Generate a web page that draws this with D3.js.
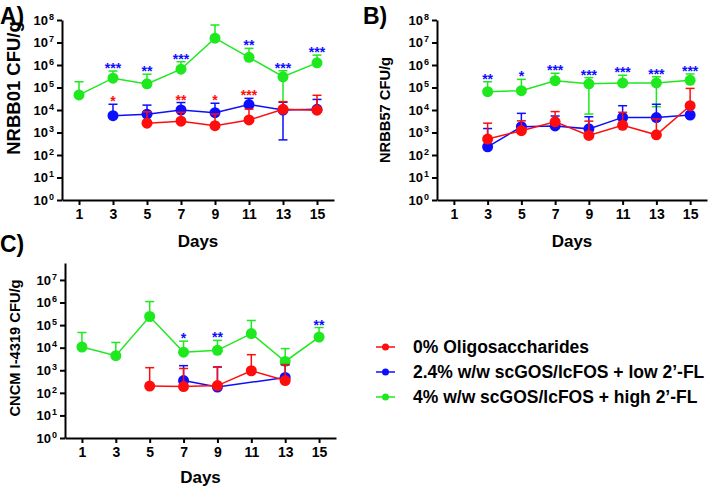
<!DOCTYPE html>
<html>
<head>
<meta charset="utf-8">
<script src="https://cdn.jsdelivr.net/npm/d3@7"></script>
<style>
    body { margin: 0; background: #fff; }
    svg { display: block; font-family: "Liberation Sans", Arial, sans-serif; font-weight: bold; }
</style>
</head>
<body>
<svg id="chart" width="708" height="488"></svg>
<script>

/* days and colours */
var days = [1, 3, 5, 7, 9, 11, 13, 15];
var groupNames = ["0% Oligosaccharides", "2.4% w/w scGOS/lcFOS + low 2\u2019-FL", "4% w/w scGOS/lcFOS + high 2\u2019-FL"];
var groupColors = ["#ff0d0d", "#0d0dff", "#1ee81e"];

/* Panel A - NRBB01 CFU/g (mean, upper error, lower error) */
var aGreenDays = [1, 3, 5, 7, 9, 11, 13, 15];
var aGreen = [4.7e4, 2.6e5, 1.45e5, 6.5e5, 1.55e7, 2.2e6, 3.0e5, 1.25e6];
var aGreenHi = [1.8e5, 5.4e5, 3.9e5, 1.4e6, 6.0e7, 5.5e6, 5.6e5, 2.75e6];
var aGreenLo = [null, null, null, null, null, null, 1e4, null];

var aBlueDays = [3, 5, 7, 9, 11, 13, 15];
var aBlue = [5.6e3, 6.5e3, 1.0e4, 7.6e3, 1.75e4, 1.0e4, 1.07e4];
var aBlueHi = [1.8e4, 1.65e4, 2.15e4, 2.0e4, 3.3e4, 2.2e4, 2.95e4];
var aBlueLo = [null, null, null, null, null, 4.7e2, null];

var aRedDays = [5, 7, 9, 11, 13, 15];
var aRed = [2.6e3, 3.2e3, 2.0e3, 3.6e3, 1.07e4, 9.8e3];
var aRedHi = [8.3e3, 7.9e3, 6.6e3, 1.1e4, 2.35e4, 4.5e4];
var aRedLo = [null, null, null, null, null, null];

var aBlueStars = [[3, "***"], [5, "**"], [7, "***"], [11, "**"], [13, "***"], [15, "***"]];
var aRedStars = [[3, "*"], [7, "**"], [9, "*"], [11, "***"]];

/* Panel B - NRBB57 CFU/g */
var bGreenDays = [3, 5, 7, 9, 11, 13, 15];
var bGreen = [6.5e4, 7.2e4, 2.0e5, 1.45e5, 1.6e5, 1.6e5, 2.1e5];
var bGreenHi = [1.8e5, 2.3e5, 4.3e5, 2.75e5, 3.5e5, 3.0e5, 4.0e5];
var bGreenLo = [null, null, null, 6.6e3, null, 1.4e4, null];

var bBlueDays = [3, 5, 7, 9, 11, 13, 15];
var bBlue = [2.3e2, 1.8e3, 1.95e3, 1.45e3, 4.7e3, 4.6e3, 6.0e3];
var bBlueHi = [1.5e3, 7.1e3, 5.4e3, 5.0e3, 1.55e4, 1.8e4, null];
var bBlueLo = [null, null, null, null, null, null, null];

var bRedDays = [3, 5, 7, 9, 11, 13, 15];
var bRed = [5.1e2, 1.2e3, 3.0e3, 7.4e2, 2.1e3, 7.9e2, 1.55e4];
var bRedHi = [2.6e3, 3.3e3, 8.5e3, 3.2e3, 7.9e3, 4.0e3, 9.1e4];
var bRedLo = [null, null, null, null, null, null, null];

var bBlueStars = [[3, "**"], [5, "*"], [7, "***"], [9, "***"], [11, "***"], [13, "***"], [15, "***"]];
var bRedStars = [];

/* Panel C - CNCM I-4319 CFU/g */
var cGreenDays = [1, 3, 5, 7, 9, 11, 13, 15];
var cGreen = [1.07e4, 4.4e3, 2.4e5, 6.3e3, 7.6e3, 4.2e4, 2.45e3, 2.95e4];
var cGreenHi = [4.7e4, 1.7e4, 1.1e6, 1.95e4, 2.1e4, 1.6e5, 9.1e3, 7.8e4];
var cGreenLo = [null, null, null, null, null, null, null, null];

var cBlueDays = [7, 9, 13];
var cBlue = [3.5e2, 1.8e2, 4.8e2];
var cBlueHi = [1.6e3, 1.4e3, 1.75e3];
var cBlueLo = [null, null, null];

var cRedDays = [5, 7, 9, 11, 13];
var cRed = [2.0e2, 1.9e2, 2.1e2, 9.5e2, 3.5e2];
var cRedHi = [1.3e3, 1.2e3, 1.4e3, 4.9e3, 1.8e3];
var cRedLo = [null, null, null, null, null];

var cBlueStars = [[7, "*"], [9, "**"], [15, "**"]];
var cRedStars = [];


function makeSeries(dd, mean, hi, lo, color) {
    return dd.map(function (d, i) {
        return {day: d, value: mean[i], hi: hi[i], lo: lo[i], color: color};
    });
}

var svg = d3.select("svg");

function drawPanel(p) {

    var g = svg.append("g");

    var x = d3.scaleLinear().domain([0, 16]).range(p.xRange);
    var y = d3.scaleLog().domain([1, p.yTop]).range(p.yRange);

    /* axes */
    var xAxis = d3.axisBottom(x).tickValues(days).tickSize(5).tickSizeOuter(0).tickPadding(4);
    var gx = g.append("g")
        .attr("transform", "translate(0," + p.yRange[0] + ")")
        .call(xAxis);
    gx.selectAll("text").style("font-size", "14px").attr("fill", "#000");

    var yTicks = d3.range(0, p.maxExp + 1).map(function (e) { return Math.pow(10, e); });
    var yAxis = d3.axisLeft(y).tickValues(yTicks).tickSize(5).tickSizeOuter(0).tickPadding(3)
        .tickFormat(function () { return ""; });
    var gy = g.append("g")
        .attr("transform", "translate(" + p.xRange[0] + ",0)")
        .call(yAxis);
    gy.selectAll(".tick text").each(function (d) {
        var t = d3.select(this).style("font-size", "13px").attr("fill", "#000");
        t.append("tspan").text("10");
        t.append("tspan").text(Math.round(Math.log10(d)))
            .style("font-size", "9px").attr("dx", "1").attr("dy", "-5");
    });

    g.selectAll(".domain, .tick line").attr("stroke", "#000").attr("stroke-width", 2);

    /* axis titles */
    g.append("text")
        .attr("x", (p.xRange[0] + p.xRange[1]) / 2)
        .attr("y", p.daysY)
        .attr("text-anchor", "middle")
        .style("font-size", "17px")
        .text("Days");

    g.append("text")
        .attr("transform", "translate(" + p.yLabel[0] + "," + p.yLabel[1] + ") rotate(-90)")
        .attr("text-anchor", "middle")
        .attr("dy", "0.36em")
        .style("font-size", p.yLabelSize + "px")
        .text(p.yTitle);

    g.append("text")
        .attr("x", p.tag[0])
        .attr("y", p.tag[1])
        .style("font-size", "23px")
        .text(p.tagText);

    /* series: green, blue, red */
    var series = [p.green, p.blue, p.red];

    series.forEach(function (s) {
        var eb = g.append("g").attr("stroke", s[0].color).attr("stroke-width", 1.5).attr("fill", "none");
        s.forEach(function (d) {
            var cx = x(d.day);
            if (d.hi) {
                eb.append("line").attr("x1", cx).attr("x2", cx).attr("y1", y(d.value)).attr("y2", y(d.hi));
                eb.append("line").attr("x1", cx - 4.5).attr("x2", cx + 4.5).attr("y1", y(d.hi)).attr("y2", y(d.hi));
            }
            if (d.lo) {
                eb.append("line").attr("x1", cx).attr("x2", cx).attr("y1", y(d.value)).attr("y2", y(d.lo));
                eb.append("line").attr("x1", cx - 4.5).attr("x2", cx + 4.5).attr("y1", y(d.lo)).attr("y2", y(d.lo));
            }
        });

        var line = d3.line()
            .x(function (d) { return x(d.day); })
            .y(function (d) { return y(d.value); });

        g.append("path")
            .datum(s)
            .attr("d", line)
            .attr("fill", "none")
            .attr("stroke", s[0].color)
            .attr("stroke-width", 1.5);

        g.selectAll(null)
            .data(s)
            .enter().append("circle")
            .attr("cx", function (d) { return x(d.day); })
            .attr("cy", function (d) { return y(d.value); })
            .attr("r", 5.5)
            .attr("fill", function (d) { return d.color; });
    });

    /* significance stars: blue above green error bar, red above blue error bar */
    function topOf(s, day) {
        var f = s.filter(function (d) { return d.day === day; })[0];
        if (!f) return null;
        return y(f.hi || f.value);
    }

    p.blueStars.forEach(function (st) {
        g.append("text")
            .attr("x", x(st[0]))
            .attr("y", topOf(p.green, st[0]) + 2)
            .attr("text-anchor", "middle")
            .attr("fill", groupColors[1])
            .style("font-size", "14px")
            .text(st[1]);
    });

    p.redStars.forEach(function (st) {
        g.append("text")
            .attr("x", x(st[0]))
            .attr("y", topOf(p.blue, st[0]) + 2)
            .attr("text-anchor", "middle")
            .attr("fill", groupColors[0])
            .style("font-size", "14px")
            .text(st[1]);
    });
}

drawPanel({
    xRange: [62, 334], yRange: [200, 20], yTop: 1e8, maxExp: 8,
    daysY: 247, yLabel: [13, 88], yLabelSize: 18.5, yTitle: "NRBB01 CFU/g",
    tag: [0, 24], tagText: "A)",
    green: makeSeries(aGreenDays, aGreen, aGreenHi, aGreenLo, groupColors[2]),
    blue: makeSeries(aBlueDays, aBlue, aBlueHi, aBlueLo, groupColors[1]),
    red: makeSeries(aRedDays, aRed, aRedHi, aRedLo, groupColors[0]),
    blueStars: aBlueStars, redStars: aRedStars
});

drawPanel({
    xRange: [437, 707], yRange: [200, 20], yTop: 1e8, maxExp: 8,
    daysY: 247, yLabel: [385, 110], yLabelSize: 14.7, yTitle: "NRBB57 CFU/g",
    tag: [363, 24], tagText: "B)",
    green: makeSeries(bGreenDays, bGreen, bGreenHi, bGreenLo, groupColors[2]),
    blue: makeSeries(bBlueDays, bBlue, bBlueHi, bBlueLo, groupColors[1]),
    red: makeSeries(bRedDays, bRed, bRedHi, bRedLo, groupColors[0]),
    blueStars: bBlueStars, redStars: bRedStars
});

drawPanel({
    xRange: [65, 336], yRange: [438, 263], yTop: Math.pow(10, 7.75), maxExp: 7,
    daysY: 483, yLabel: [15, 348], yLabelSize: 14.7, yTitle: "CNCM I-4319 CFU/g",
    tag: [0, 252], tagText: "C)",
    green: makeSeries(cGreenDays, cGreen, cGreenHi, cGreenLo, groupColors[2]),
    blue: makeSeries(cBlueDays, cBlue, cBlueHi, cBlueLo, groupColors[1]),
    red: makeSeries(cRedDays, cRed, cRedHi, cRedLo, groupColors[0]),
    blueStars: cBlueStars, redStars: cRedStars
});

/* legend */
var legend = svg.append("g").attr("transform", "translate(376,347)");

var item = legend.selectAll("g")
    .data(groupNames)
    .enter().append("g")
    .attr("transform", function (d, i) { return "translate(0," + i * 25 + ")"; });

item.append("line")
    .attr("x1", 0).attr("x2", 19)
    .attr("stroke", function (d, i) { return groupColors[i]; })
    .attr("stroke-width", 1.5);

item.append("circle")
    .attr("cx", 9.5).attr("r", 3.5)
    .attr("fill", function (d, i) { return groupColors[i]; });

item.append("text")
    .attr("x", 37)
    .attr("dy", "0.36em")
    .style("font-size", "17.5px")
    .text(function (d) { return d; });

</script>
</body>
</html>
